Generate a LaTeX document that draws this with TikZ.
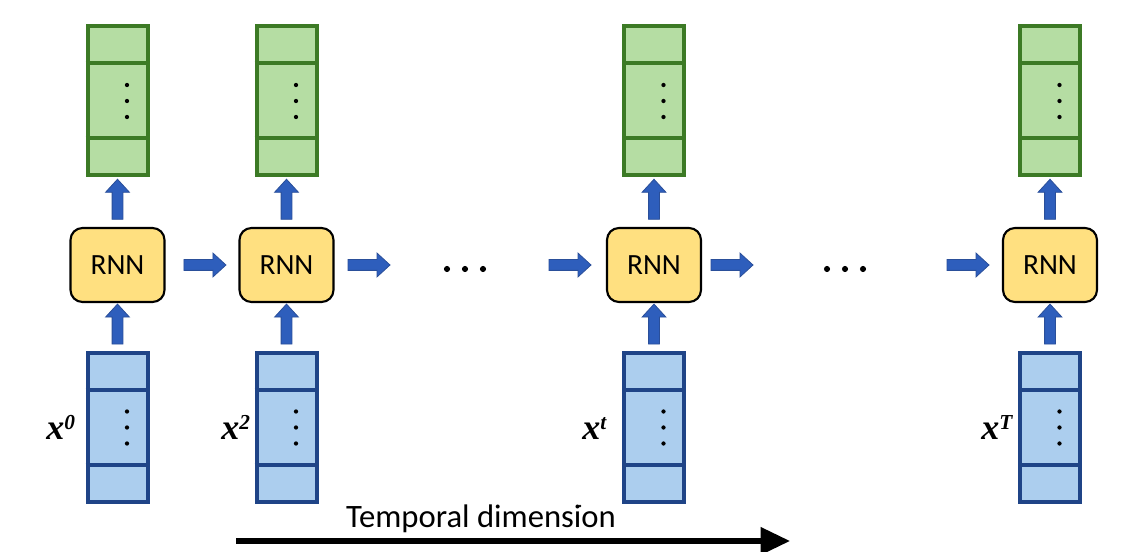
\documentclass[tikz,border=0pt]{standalone}
\usepackage{fontspec}
\setmainfont{Carlito}
\newfontfamily\lblfont{Liberation Serif}
\usetikzlibrary{shapes.arrows,calc,arrows.meta}
\definecolor{gfill}{HTML}{B5DDA3}
\definecolor{gline}{HTML}{3C7A25}
\definecolor{bfill}{HTML}{ACCEEE}
\definecolor{bline}{HTML}{1F4487}
\definecolor{rfill}{HTML}{FFE080}
\definecolor{afill}{HTML}{2E5EBC}
\definecolor{aline}{HTML}{2A4F9A}
\newcommand{\pxu}{0.75pt}
\newcommand{\xlbl}[1]{{\lblfont\bfseries\itshape x\raisebox{7.5pt}{\fontsize{16}{16}\selectfont #1}}}
\tikzset{
  col/.style={rectangle, draw, line width=3pt, inner sep=0pt,
    minimum width=60*\pxu, minimum height=149*\pxu},
  gcol/.style={col, draw=gline, fill=gfill},
  bcol/.style={col, draw=bline, fill=bfill},
  rnn/.style={rectangle, rounded corners=9pt, draw=black, line width=1.6pt,
    fill=rfill, minimum width=94*\pxu, minimum height=74*\pxu, inner sep=0pt,
    font=\fontsize{22}{24}\selectfont},
  arr/.style={single arrow, draw=aline, fill=afill, line width=0.6pt,
    inner xsep=0pt, inner ysep=5*\pxu, single arrow head extend=6.5*\pxu,
    single arrow tip angle=85, minimum width=0pt, outer sep=0pt},
  varrow/.style={arr, minimum height=40*\pxu, sloped, allow upside down},
  harrow/.style={arr, minimum height=42*\pxu},
  lbl/.style={anchor=base west, inner sep=0pt, font=\fontsize{27}{28}\selectfont},
  dotsnode/.style={inner sep=0pt, minimum size=0pt},
}
\begin{document}
\begin{tikzpicture}[x=0.75pt,y=-0.75pt]
\path[fill=white,use as bounding box] (0,0) rectangle (1132,552);

\foreach \i/\cx in {1/117.5, 2/286.5, 3/654, 4/1050} {
  \node[gcol] (g\i) at (\cx,101) {};
  \node[bcol] (b\i) at (\cx,427.5) {};
  \node[rnn] (r\i) at (\cx,265) {RNN};
  \draw[gline, line width=3pt] ($(g\i.north west)+(0,39)$) -- ($(g\i.north east)+(0,39)$);
  \draw[gline, line width=3pt] ($(g\i.south west)+(0,-39)$) -- ($(g\i.south east)+(0,-39)$);
  \draw[bline, line width=3pt] ($(b\i.north west)+(0,39)$) -- ($(b\i.north east)+(0,39)$);
  \draw[bline, line width=3pt] ($(b\i.south west)+(0,-39)$) -- ($(b\i.south east)+(0,-39)$);
  \foreach \dy in {-16,0,16} {
    \fill ($(g\i.center)+(9.5,\dy)$) circle (1.6pt);
    \fill ($(b\i.center)+(9.5,\dy)$) circle (1.6pt);
  }
  \path (r\i.north) -- node[varrow] {} (g\i.south);
  \path (b\i.north) -- node[varrow] {} (r\i.south);
}

% horizontal connectors
\coordinate (h2) at (390,265);
\coordinate (h3) at (549,265);
\coordinate (h4) at (753,265);
\coordinate (h5) at (947,265);
\path (r1.east) -- node[harrow] {} (r2.west);
\path (r2.east) -- (h2) node[harrow, anchor=tip] {};
\path (h3) node[harrow, anchor=tail] {} -- (r3.west);
\path (r3.east) -- (h4) node[harrow, anchor=tip] {};
\path (h5) node[harrow, anchor=tail] {} -- (r4.west);

% ellipses
\node[dotsnode] (d1) at (465,269) {};
\node[dotsnode] (d2) at (845,269) {};
\foreach \d in {d1,d2} {
  \fill (\d) circle (2.3pt) ($(\d)+(-18,0)$) circle (2.3pt) ($(\d)+(18,0)$) circle (2.3pt);
}

% input labels
\node[lbl] (l0) at (46,439) {\xlbl{0}};
\node[lbl] (l2) at (221,439) {\xlbl{2}};
\node[lbl] (lt) at (582,439) {\xlbl{t}};
\node[lbl] (lT) at (981,439) {\xlbl{T}};

% stray dot
\fill (580,506) circle (1.1pt);

% temporal axis
\node[anchor=base, inner sep=0pt, font=\fontsize{24.5}{28}\selectfont] (tl) at (481,527) {Temporal dimension};
\coordinate (ta) at (236,541);
\coordinate (tb) at (790,541);
\draw[line width=3.8pt, -{Triangle[length=22pt,width=20pt]}] (ta) -- (tb);
\end{tikzpicture}
\end{document}
